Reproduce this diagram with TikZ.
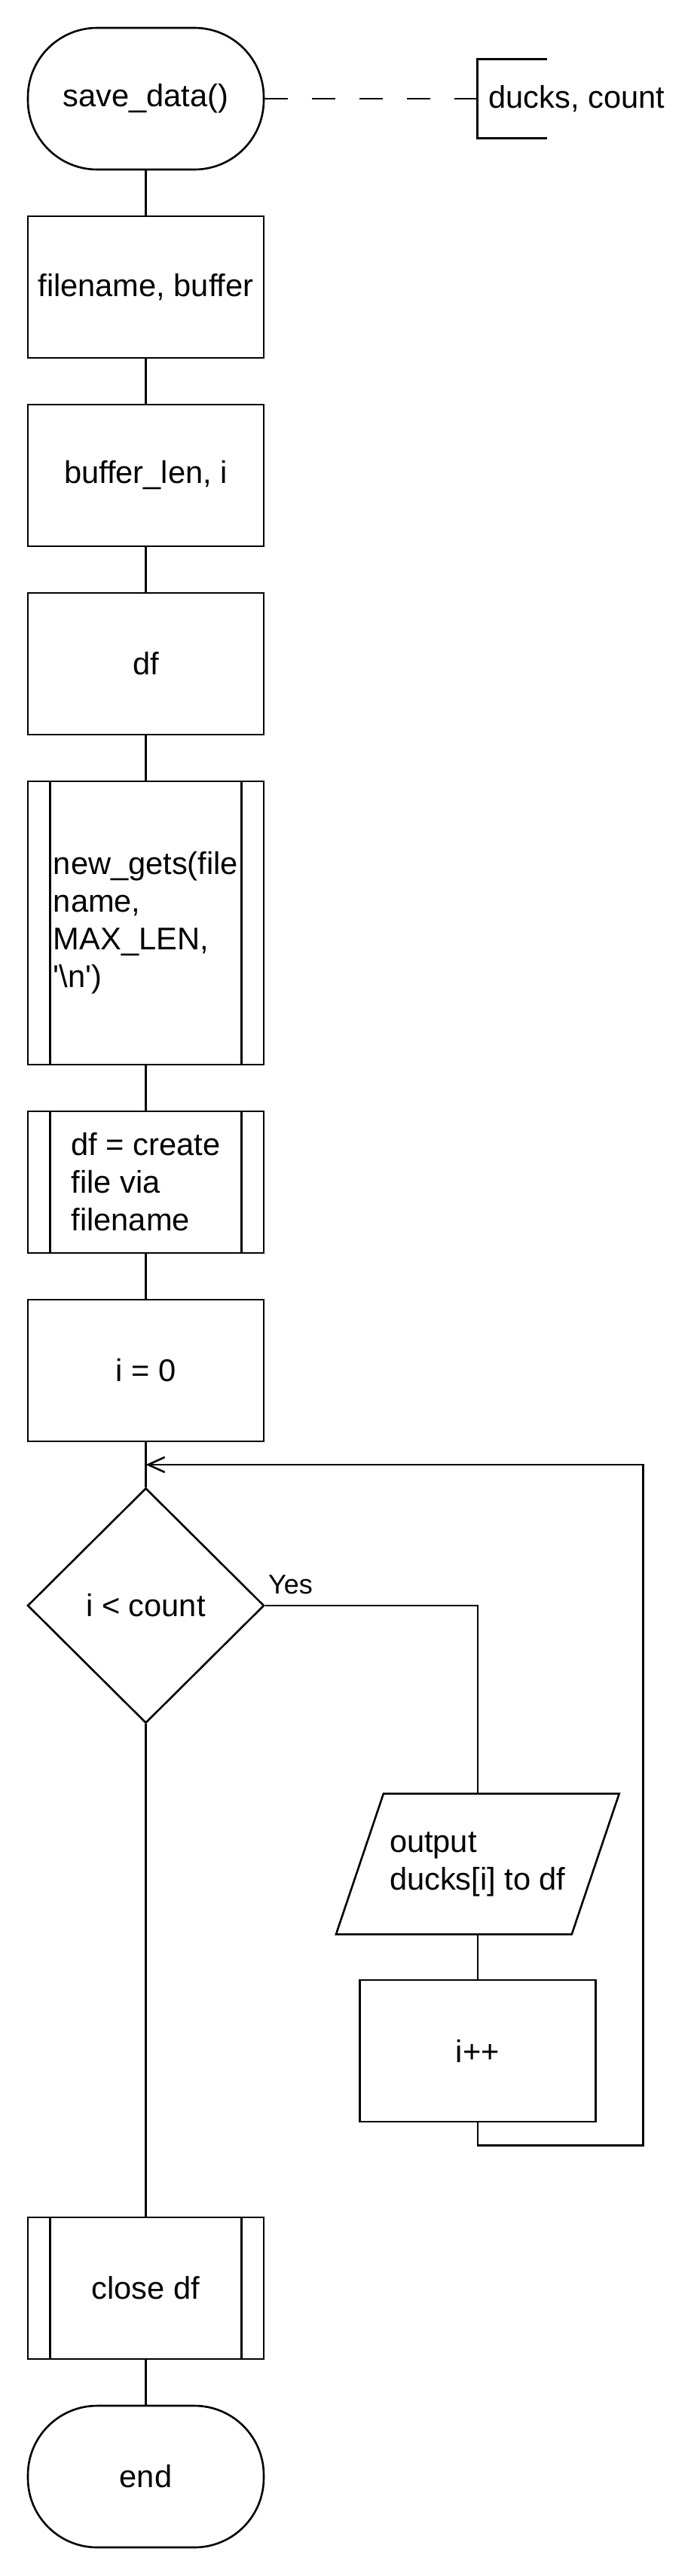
\documentclass[tikz,border=0pt]{standalone}
\usepackage{fontspec}
\setmainfont{Liberation Sans}
\usetikzlibrary{positioning, arrows.meta, shapes.geometric, calc}

\begin{document}
\begin{tikzpicture}[
    node distance=29.7pt,
    font=\fontsize{20.8pt}{25pt}\selectfont,
    box/.style={rectangle, draw, line width=1.3pt, minimum width=156.5pt,
                minimum height=94pt, align=center},
    term/.style={box, rounded corners=46pt},
    sub/.style={box, align=left},
    io/.style={rectangle, minimum width=156pt, minimum height=93pt, align=left},
    decision/.style={diamond, draw, line width=1.3pt, minimum width=157pt,
                minimum height=156pt, inner sep=0pt},
    param/.style={rectangle, minimum height=52pt, inner xsep=7.5pt},
    conn/.style={line width=1.3pt},
    arrow/.style={conn, -{Straight Barb[length=11pt, width=10pt]}}
  ]
    \useasboundingbox (0,0) rectangle (458pt,-1709.5pt);

    \node[term] (start) at (96.75pt,-65.5pt) {save\_data()};
    \node[param, right=141pt of start] (par) {ducks, count};
    \node[box, below=of start]  (vars1) {filename, buffer};
    \node[box, below=of vars1]  (vars2) {buffer\_len, i};
    \node[box, below=of vars2]  (vars3) {df};
    \node[sub, minimum height=188pt, below=of vars3] (gets)
        {new\_gets(file\\name,\\MAX\_LEN,\\\textquotesingle\textbackslash n\textquotesingle)};
    \node[sub, below=of gets]   (mkfile) {df = create\\file via\\filename};
    \node[box, below=of mkfile] (init) {i = 0};
    \node[decision, below=of init] (check) {i < count};
    \node[io] (out) at ([xshift=141pt, yshift=-171.5pt]check.east) {output\\ducks[i] to df};
    \node[box, below=of out]    (inc) {i++};
    \node[sub, align=center, below=326.7pt of check] (close) {close df};
    \node[term, below=of close] (end) {end};

    % subroutine bars and i/o shape
    \foreach \n in {gets, mkfile, close}
      \draw[conn] ([xshift=15.5pt]\n.north west) -- ([xshift=15.5pt]\n.south west)
                  ([xshift=-15.5pt]\n.north east) -- ([xshift=-15.5pt]\n.south east);
    \draw[conn] ([xshift=15.75pt]out.north west) -- ([xshift=15.75pt]out.north east)
        -- ([xshift=-15.75pt]out.south east) -- ([xshift=-15.75pt]out.south west) -- cycle;
    \draw[conn] ([xshift=46.5pt]par.north west) -- (par.north west)
        -- (par.south west) -- ([xshift=46.5pt]par.south west);

    \draw[conn, dash pattern=on 15.5pt off 16pt] (start) -- (par);
    \foreach \a/\b in {start/vars1, vars1/vars2, vars2/vars3, vars3/gets, gets/mkfile,
                       mkfile/init, init/check, check/close, close/end, out/inc}
      \draw[conn] (\a) -- (\b);

    \draw[conn] (check.east)
        node[anchor=base west, inner sep=0pt, xshift=1.5pt, yshift=8pt,
             font=\fontsize{18pt}{22pt}\selectfont] {Yes} -| (out.north);

    \coordinate (merge) at ($(init.south)!0.5!(check.north)$);
    \draw[arrow] (inc.south) -- ++(0,-15pt) -| ($(inc.east |- merge)+(31pt,0)$) -- (merge);
  \end{tikzpicture}
\end{document}
